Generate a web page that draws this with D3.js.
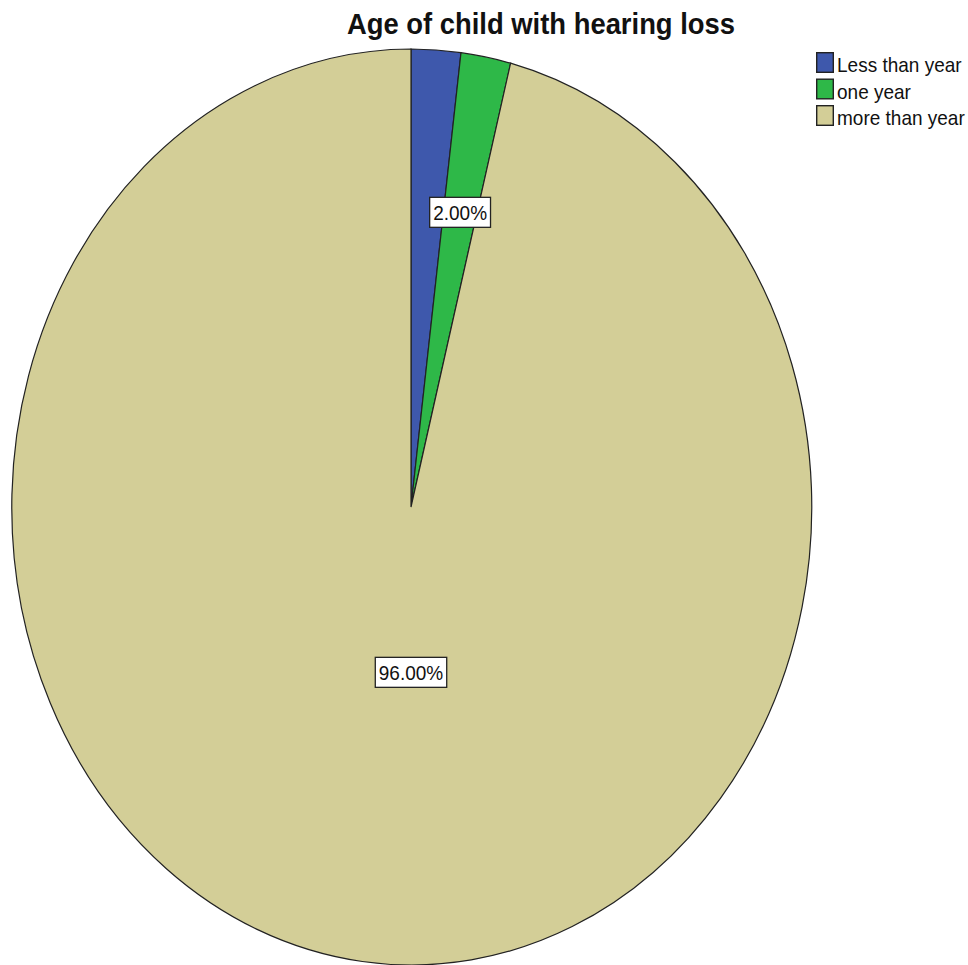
<!DOCTYPE html>
<html><head><meta charset="utf-8">
<script src="https://cdn.jsdelivr.net/npm/d3@7"></script>
<style>body{margin:0;background:#fff}svg{display:block}text{font-family:"Liberation Sans",Arial,sans-serif}</style>
</head><body>
<svg id="c" width="968" height="965"></svg>
<script>
const title = "Age of child with hearing loss";
const categories = ["Less than year", "one year", "more than year"];
const values = [2, 2, 96];
const colors = ["#3E58AC", "#2EB848", "#D3CE97"];

const svg = d3.select("#c");
const cx = 411, cy = 507, rx = 400, ry = 458;
const SY = 1.08; // vertical stretch of the original raster text

svg.append("text").attr("transform", `translate(541,34) scale(1,1.05)`).attr("text-anchor", "middle")
  .attr("font-size", 27.4).attr("font-weight", "bold").attr("fill", "#111").text(title);

const total = d3.sum(values);
const data = categories.map((c, i) => ({cat: c, value: values[i], color: colors[i]}));
const pie = d3.pie().value(d => d.value).sort(null);
const arcs = pie(data);
const arc = d3.arc().innerRadius(0).outerRadius(1);

const g = svg.append("g").attr("transform", `translate(${cx},${cy}) scale(${rx},${ry})`);
g.selectAll("path").data(arcs).join("path")
  .attr("d", arc).attr("fill", d => d.data.color)
  .attr("stroke", "#222").attr("stroke-width", 1.2)
  .attr("vector-effect", "non-scaling-stroke");

// labels
const fmt = d => (d.data.value / total * 100).toFixed(2) + "%";
const lg = svg.append("g");
const placed = [];
[...arcs].reverse().forEach(d => {
  const frac = d.data.value / total;
  let ang, r;
  if (frac > 0.5) { ang = Math.PI; r = 0.361; }
  else { ang = (d.startAngle + d.endAngle) / 2; r = 0.655; }
  const x = cx + rx * r * Math.sin(ang);
  const y = cy - ry * r * Math.cos(ang);
  const t = lg.append("text").attr("transform", `translate(${x},${y + 7.5}) scale(1,${SY})`).attr("text-anchor", "middle")
    .attr("font-size", 19).attr("fill", "#111").text(fmt(d));
  const bb = t.node().getBBox();
  const box = {x: x - bb.width / 2 - 3.5, y: y - 15, w: bb.width + 7, h: 30};
  if (placed.some(p => box.x < p.x + p.w && box.x + box.w > p.x && box.y < p.y + p.h && box.y + box.h > p.y)) { t.remove(); return; }
  placed.push(box);
  lg.insert("rect", () => t.node()).attr("x", box.x).attr("y", box.y).attr("width", box.w).attr("height", box.h)
    .attr("fill", "#fff").attr("stroke", "#222").attr("stroke-width", 1.3);
});

// legend
const leg = svg.append("g").attr("transform", "translate(816,52)");
const rowH = 26.5;
data.forEach((d, i) => {
  const r = leg.append("g").attr("transform", `translate(0,${i * rowH})`);
  r.append("rect").attr("x", 0.7).attr("y", 0.7).attr("width", 16.6).attr("height", 19.6)
    .attr("fill", d.color).attr("stroke", "#222").attr("stroke-width", 1.4);
  r.append("text").attr("transform", `translate(21,20) scale(1,1.1)`).attr("font-size", 19).attr("fill", "#111").text(d.cat);
});
</script>
</body></html>
